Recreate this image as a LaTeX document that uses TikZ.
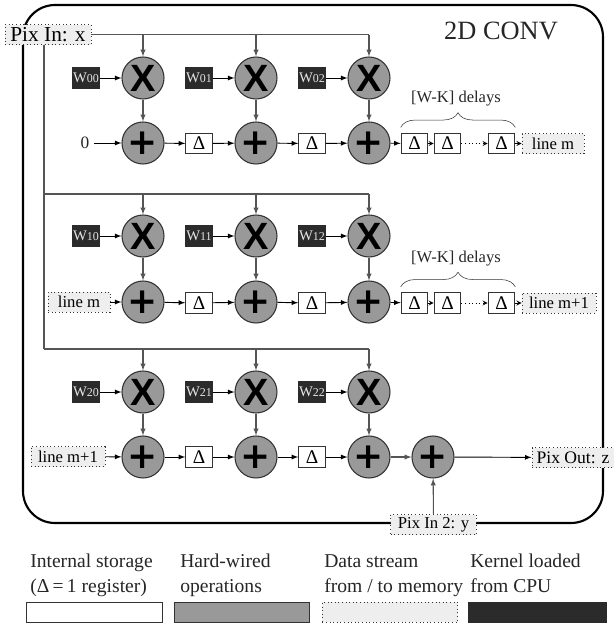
\documentclass[tikz,border=0pt]{standalone}
\usepackage{fontspec}
\setmainfont{Liberation Serif}
\newfontfamily\markfont{DejaVu Sans}
\newfontfamily\crossfont{Liberation Sans}
\usetikzlibrary{decorations.pathreplacing}
\definecolor{wiregray}{HTML}{555555}
\definecolor{opgray}{HTML}{999999}
\definecolor{streamgray}{HTML}{EEEEEE}
\definecolor{kerneldark}{HTML}{2B2B2B}
\tikzset{
    opnode/.style={circle,draw=black!80,fill=opgray,line width=0.8pt,minimum size=31.5pt,inner sep=0pt,text=black},
    mulnode/.style={opnode,font=\crossfont\bfseries\fontsize{28.5}{28.5}\selectfont},
    addnode/.style={opnode,font=\markfont\bfseries\fontsize{27}{27}\selectfont},
    regnode/.style={rectangle,draw=black!80,fill=white,line width=0.7pt,minimum width=20pt,minimum height=15.5pt,inner sep=0pt,font=\fontsize{14.5}{14.5}\selectfont},
    kernelnode/.style={rectangle,draw=kerneldark,fill=kerneldark,minimum width=20pt,minimum height=16pt,inner sep=0pt,text=white!90!black,font=\fontsize{11}{11}\selectfont},
    datanode/.style={rectangle,draw=black!80,dotted,fill=streamgray,line width=0.7pt,inner sep=0pt,minimum height=15pt,font=\fontsize{12.5}{12.5}\selectfont},
    keynode/.style={rectangle,line width=0.7pt,minimum width=101.5pt,minimum height=15pt,inner sep=0pt},
    keytext/.style={align=left,anchor=north west,inner sep=0pt,font=\fontsize{14.7}{18.75}\selectfont,text=black!85},
    wire/.style={draw=wiregray,line width=0.8pt},
    bus/.style={->,black,line width=0.7pt},
    delaybrace/.style={decorate,decoration={brace,amplitude=11pt},black!80}
}
\newcommand{\kernelname}[1]{W{\fontsize{9}{9}\selectfont #1}}
\begin{document}
\begin{tikzpicture}[x=0.75pt,y=-0.75pt,>=latex]
    \useasboundingbox (0,0) rectangle (614,625);
    \draw [black,line width=1.6pt,rounded corners=24pt] (23,5) rectangle (603,523);
    \node [font=\fontsize{19.8}{19.8}\selectfont,text=black!85] (Title) at (501,31) {2D CONV};

    \node [datanode,minimum width=64.5pt,font=\fontsize{16}{16}\selectfont] (In) at (48,34.5) {Pix In: x};
    \coordinate (BusA) at (44,194);
    \coordinate (BusB) at (44,349);

    \node [mulnode] (M00) at (143,78) {X};
    \node [mulnode] (M01) at (256,78) {X};
    \node [mulnode] (M02) at (369,78) {X};
    \node [addnode] (A00) at (143,143) {+};
    \node [addnode] (A01) at (256,143) {+};
    \node [addnode] (A02) at (369,143) {+};
    \node [mulnode] (M10) at (143,236) {X};
    \node [mulnode] (M11) at (256,236) {X};
    \node [mulnode] (M12) at (369,236) {X};
    \node [addnode] (A10) at (143,302) {+};
    \node [addnode] (A11) at (256,302) {+};
    \node [addnode] (A12) at (369,302) {+};
    \node [mulnode] (M20) at (143,392) {X};
    \node [mulnode] (M21) at (256,392) {X};
    \node [mulnode] (M22) at (369,392) {X};
    \node [addnode] (A20) at (143,457) {+};
    \node [addnode] (A21) at (256,457) {+};
    \node [addnode] (A22) at (369,457) {+};
    \node [addnode] (Sum) at (433,457) {+};

    \node [kernelnode] (W00) at (86,78) {\kernelname{00}};
    \node [kernelnode] (W01) at (199,78) {\kernelname{01}};
    \node [kernelnode] (W02) at (312,78) {\kernelname{02}};
    \node [kernelnode] (W10) at (86,236) {\kernelname{10}};
    \node [kernelnode] (W11) at (199,236) {\kernelname{11}};
    \node [kernelnode] (W12) at (312,236) {\kernelname{12}};
    \node [kernelnode] (W20) at (86,392) {\kernelname{20}};
    \node [kernelnode] (W21) at (199,392) {\kernelname{21}};
    \node [kernelnode] (W22) at (312,392) {\kernelname{22}};

    \node [regnode] (D00) at (199,143.5) {Δ};
    \node [regnode] (D01) at (312,143.5) {Δ};
    \node [regnode] (D02) at (414.5,143.5) {Δ};
    \node [regnode] (D03) at (447.5,143.5) {Δ};
    \node [regnode] (D04) at (501.5,143.5) {Δ};
    \node [regnode] (D10) at (199,303) {Δ};
    \node [regnode] (D11) at (312,303) {Δ};
    \node [regnode] (D12) at (414.5,303) {Δ};
    \node [regnode] (D13) at (447.5,303) {Δ};
    \node [regnode] (D14) at (501.5,303) {Δ};
    \node [regnode] (D20) at (199,457) {Δ};
    \node [regnode] (D21) at (312,457) {Δ};

    \node [font=\fontsize{13}{13}\selectfont,text=black!85] (Zero) at (85,143) {0};
    \node [datanode,minimum width=46.5pt] (L0) at (553,143.5) {line m};
    \node [datanode,minimum width=46.5pt] (L1) at (79,302) {line m};
    \node [datanode,minimum width=55.5pt] (L2) at (559,303) {line m+1};
    \node [datanode,minimum width=55.5pt] (L3) at (68,456.5) {line m+1};
    \node [datanode,minimum width=61.5pt,font=\fontsize{13.2}{13.2}\selectfont] (Out) at (573,457.5) {Pix Out: z};
    \node [datanode,minimum width=64pt] (In2) at (433.5,524.5) {Pix In 2: y};

    \node [font=\fontsize{12.4}{12.4}\selectfont,text=black!85] (DelayA) at (456,99) {[W-K] delays};
    \node [font=\fontsize{12.4}{12.4}\selectfont,text=black!85] (DelayB) at (456,259) {[W-K] delays};
    \draw [delaybrace] ([yshift=4pt]D02.north west) -- ([yshift=4pt]D04.north east);
    \draw [delaybrace] ([yshift=4pt]D12.north west) -- ([yshift=4pt]D14.north east);

    \draw [wire] (In) -- (M02 |- In);
    \draw [wire] (In.south -| BusA) -- (BusB);
    \draw [wire] (BusA) -- (M12 |- BusA);
    \draw [wire] (BusB) -- (M22 |- BusB);

    \draw [wire,->] (M00 |- In) -- (M00);
    \draw [wire,->] (M01 |- In) -- (M01);
    \draw [wire,->] (M02 |- In) -- (M02);
    \draw [wire,->] (M10 |- BusA) -- (M10);
    \draw [wire,->] (M11 |- BusA) -- (M11);
    \draw [wire,->] (M12 |- BusA) -- (M12);
    \draw [wire,->] (M20 |- BusB) -- (M20);
    \draw [wire,->] (M21 |- BusB) -- (M21);
    \draw [wire,->] (M22 |- BusB) -- (M22);
    \draw [wire,->] (M00) -- (A00);
    \draw [wire,->] (M01) -- (A01);
    \draw [wire,->] (M02) -- (A02);
    \draw [wire,->] (M10) -- (A10);
    \draw [wire,->] (M11) -- (A11);
    \draw [wire,->] (M12) -- (A12);
    \draw [wire,->] (M20) -- (A20);
    \draw [wire,->] (M21) -- (A21);
    \draw [wire,->] (M22) -- (A22);

    \draw [bus] (W00) -- (M00);
    \draw [bus] (W01) -- (M01);
    \draw [bus] (W02) -- (M02);
    \draw [bus] (W10) -- (M10);
    \draw [bus] (W11) -- (M11);
    \draw [bus] (W12) -- (M12);
    \draw [bus] (W20) -- (M20);
    \draw [bus] (W21) -- (M21);
    \draw [bus] (W22) -- (M22);

    \draw [bus] (Zero) -- (A00);
    \draw [bus] (A00) -- (D00);
    \draw [bus] (D00) -- (A01);
    \draw [bus] (A01) -- (D01);
    \draw [bus] (D01) -- (A02);
    \draw [bus] (A02) -- (D02);
    \draw [bus,>=stealth] (D02) -- (D03);
    \draw [bus,dotted,>=stealth] (D03) -- (D04);
    \draw [bus,>=stealth] (D04) -- (L0);

    \draw [bus] (L1) -- (A10);
    \draw [bus] (A10) -- (D10);
    \draw [bus] (D10) -- (A11);
    \draw [bus] (A11) -- (D11);
    \draw [bus] (D11) -- (A12);
    \draw [bus] (A12) -- (D12);
    \draw [bus,>=stealth] (D12) -- (D13);
    \draw [bus,dotted,>=stealth] (D13) -- (D14);
    \draw [bus,>=stealth] (D14) -- (L2);

    \draw [bus] (L3) -- (A20);
    \draw [bus] (A20) -- (D20);
    \draw [bus] (D20) -- (A21);
    \draw [bus] (A21) -- (D21);
    \draw [bus] (D21) -- (A22);
    \draw [wire,->] (A22) -- (Sum);
    \draw [bus] (Sum) -- (Out);
    \draw [wire,->] (In2) -- (Sum);

    \node [keytext] (TextA) at (30,554) {Internal storage\\(Δ\,=\,1 register)};
    \node [keytext] (TextB) at (180,554) {Hard-wired\\operations};
    \node [keytext] (TextC) at (324,554) {Data stream\\from / to memory};
    \node [keytext] (TextD) at (470,554) {Kernel loaded\\from CPU};
    \node [keynode,draw=black!80,fill=white] (KeyA) at (94.5,612) {};
    \node [keynode,draw=black!80,fill=opgray] (KeyB) at (242,612) {};
    \node [keynode,draw=black!80,dotted,fill=streamgray] (KeyC) at (390,612) {};
    \node [keynode,minimum width=103.5pt,draw=kerneldark,fill=kerneldark] (KeyD) at (537,612) {};
\end{tikzpicture}
\end{document}
